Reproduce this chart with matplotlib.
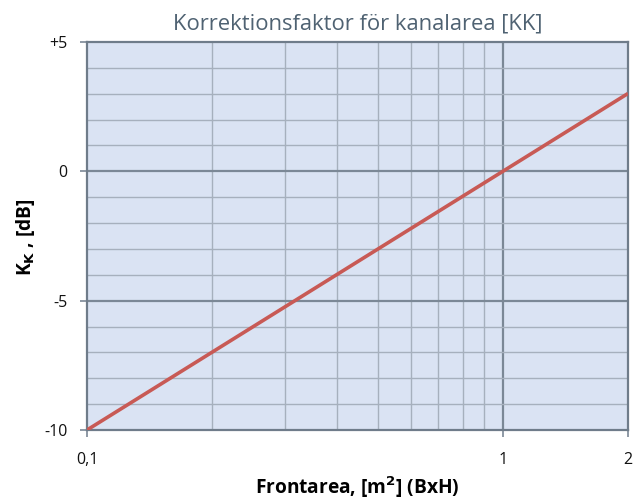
import numpy as np
import matplotlib
matplotlib.use("Agg")
import matplotlib.pyplot as plt
from matplotlib.ticker import FixedLocator, NullFormatter

# Data
area = [0.1, 0.2, 0.5, 1.0, 2.0]
kk_db = [-10.0, -6.99, -3.01, 0.0, 3.01]
x_tick_vals = [0.1, 1, 2]
x_tick_labels = ["0,1", "1", "2"]
y_tick_vals = [-10, -5, 0, 5]
y_tick_labels = ["-10", "-5", "0", "+5"]
x_minor = [0.2, 0.3, 0.4, 0.5, 0.6, 0.7, 0.8, 0.9]
y_minor = [-9, -8, -7, -6, -4, -3, -2, -1, 1, 2, 3, 4]

plt.rcParams['font.family'] = ['Open Sans', 'DejaVu Sans']

fig = plt.figure(figsize=(6.41, 4.99), dpi=100)
ax = fig.add_axes([87/641, 1-430/499, (628-87)/641, (430-42)/499])
ax.set_facecolor('#dae3f3')
ax.set_xscale('log')
ax.set_xlim(0.1, 2)
ax.set_ylim(-10, 5)

minor_c = '#a6b0bd'
major_c = '#7b8896'
for x in x_minor:
    ax.axvline(x, color=minor_c, lw=1.0, zorder=1)
ax.axvline(1, color=major_c, lw=1.6, zorder=1)
for y in y_minor:
    ax.axhline(y, color=minor_c, lw=1.0, zorder=1)
for y in [-5, 0]:
    ax.axhline(y, color=major_c, lw=1.6, zorder=1)

ax.plot(area, kk_db, color='#c85a55', lw=2.6, zorder=3, solid_capstyle='butt')

ax.xaxis.set_major_locator(FixedLocator(x_tick_vals))
ax.set_xticklabels(x_tick_labels)
ax.xaxis.set_minor_locator(FixedLocator([]))
ax.xaxis.set_minor_formatter(NullFormatter())
ax.set_yticks(y_tick_vals)
ax.set_yticklabels(y_tick_labels)
ax.tick_params(axis='both', labelsize=11.5, length=5, width=1.2)
ax.tick_params(axis='x', colors='#7b8896', labelcolor='#111111', pad=11)
ax.tick_params(axis='y', colors='#7b8896', labelcolor='#111111', pad=9)

for s in ax.spines.values():
    s.set_color('#6f7c8a')
    s.set_linewidth(1.6)

ax.set_title('Korrektionsfaktor för kanalarea [KK]', fontsize=15.8, color='#4f6272', pad=9)
ax.set_xlabel('Frontarea, [m$^\\mathbf{2}$] (BxH)', fontsize=13.8, fontweight='bold')
ax.set_ylabel('K$_\\mathbf{K}$ , [dB]', fontsize=13.8, fontweight='bold')
ax.xaxis.set_label_coords(0.5, -0.147)
ax.yaxis.set_label_coords(-0.113, 0.497)
ax.xaxis.label.set_va('center')
ax.yaxis.label.set_va('center')

fig.savefig('out.png', dpi=100)
